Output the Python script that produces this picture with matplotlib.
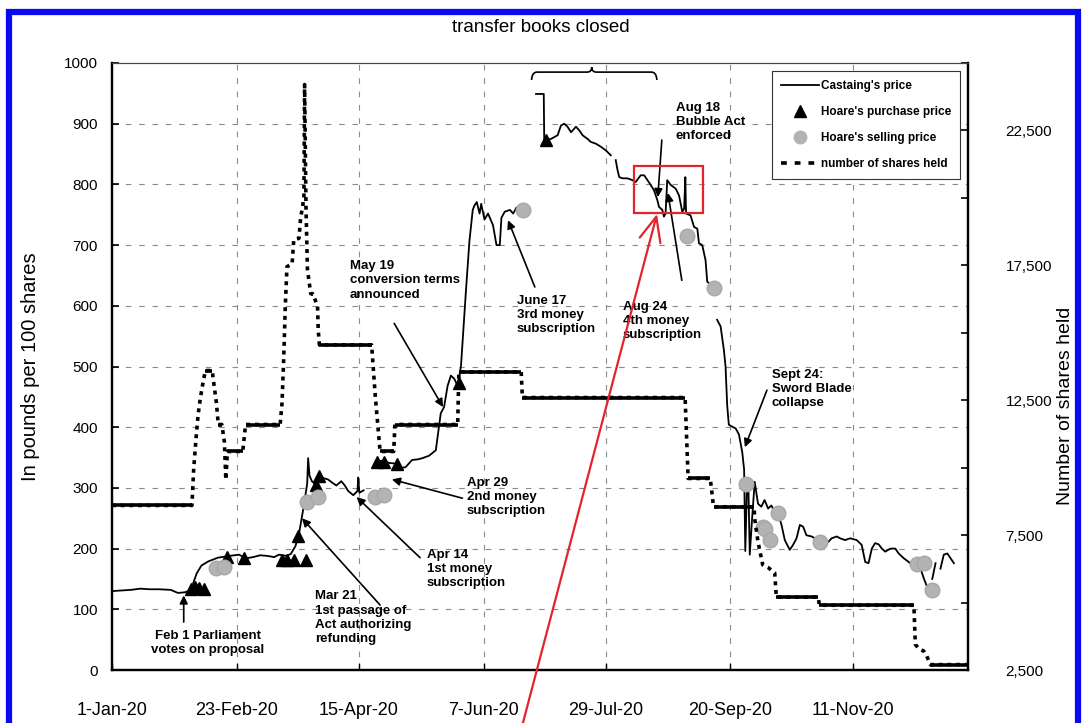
import numpy as np
import matplotlib
matplotlib.use('Agg')
import matplotlib.pyplot as plt
from matplotlib.lines import Line2D
from matplotlib.patches import Rectangle, PathPatch, FancyArrowPatch
from matplotlib.path import Path

plt.rcParams['font.family'] = ['Liberation Sans', 'DejaVu Sans']

nan = np.nan

# x values are days counted from 1 January 1720
tick_days = [0, 53, 105, 158, 210, 263, 315]
tick_labels = ['1-Jan-20', '23-Feb-20', '15-Apr-20', '7-Jun-20', '29-Jul-20', '20-Sep-20', '11-Nov-20']

# Castaing's price (pounds per 100 shares), nan = break in the series
price_days = [0, 4, 8, 12, 16, 20, 25, 28, 31, 33, 34, 36, 38, 41, 45, 50, 54, 57, 60, 63, 66, 69, 71, 74, 76,
              78, 79.5, 81.5, 83, 83.4, 84, 85, 86.5, 88, 90, 91.8, 93.5, 95.4, 97.5, 99, 100.4, 102.6, 104.4,
              104.7, 105.2, 107, 110, 112.5, 115, 118, 121, 122.5, 124.8, 127.6, 130, 132, 134.8, 137.7, 139.8,
              141.2, 142.7, 144.1, 145.5, 147, 148.4, 149.8, 150.6, 152, 153.4, 154.1, 155.1, 156.3, 157, 158.4,
              159.9, 162, 163.5, 164.9, 165.6, 167, 169.2, 170.6, 172, 173.5, 174.9, 177,
              180.3, 183.6, 183.8, 186.7, 189.5, 190.9, 192.3, 193.7, 195.2, 197.3, 198.7, 200.1, 202.2, 203.6,
              205.8, 207.9, 210, 212.1, 213, 214.2, 215, 215.7, 217.1, 219.2, 221.3, 222.7, 224.8, 226.3, 227.7,
              229.1, 230.5, 231.9, 232.6, 234, 234.7, 235.4, 236.1, 237.6, 239.7, 241.1, 242.5, 243.3, 243.8,
              244.1, 246, 247.5, 248.9, 249.6, 251, 252.4, 253.1, 256, 256.6,
              257.3, 258.8, 260.2, 260.9, 261.6, 262.3, 263.7, 265.2, 266.6, 268, 268.8, 269.3, 270, 270.6, 271.2,
              272.2, 273.3, 274.7, 276.1, 277.5, 279, 280.4, 281.8, 283.2, 284.7, 286.1, 288.2, 289.6, 291.1,
              292.5, 293.9, 295.3, 297.5, 298.9, 301, 302.5, 304.6, 306, 308.2, 309.6, 311.7, 313.9, 316.7, 318.8,
              320.3, 321.7, 323.1, 324.5, 326, 327.4, 328.8, 331, 333.1, 334.5, 336.7, 338.8, 340.2, 342, 343.8,
              345.2, 346.6, 347.5, 348.8, 350.2, 351, 352.3, 353.7, 355.2, 356.6, 358]
price = [130, 131, 132, 134, 133, 133, 132, 127, 128, 131, 137, 159, 172, 179, 185, 188, 190, 184, 186, 189, 188,
         186, 190, 188, 191, 204, 224, 269, 307, 349, 320, 311, 306, 320, 316, 314, 309, 304, 311, 304, 295, 288,
         295, 317, 292, 296, nan, 343, 345, 341, 340, 333, 334, 346, 347, 349, 353, 362, 423, 433, 468, 485, 480,
         468, 501, 584, 630, 707, 758, 765, 771, 752, 768, 742, 752, 733, 700, 700, 745, 755, 758, 752, 762, 760,
         758, nan,
         949, 949, 873, 875, 881, 897, 900, 895, 886, 895, 889, 881, 875, 870, 867, 862, 856, 848, nan, 840, 823,
         812, 810, 810, 807, 804, 815, 815, 807, 799, 790, 774, 763, 758, 747, 752, 807, 799, 793, 782, 755, 760,
         812, 752, 749, 730, 727, 703, 700, 675, 640, 629, nan,
         577, 566, 527, 500, 436, 404, 401, 398, 388, 359, 330, 196, 300, 305, 190, 250, 310, 274, 269, 280, 266,
         271, 260, 258, 239, 214, 198, 206, 217, 239, 236, 222, 220, 217, 211, 214, 211, 217, 220, 217, 214, 217,
         214, 206, 178, 176, 200, 209, 207, 200, 195, 200, 200, 192, 184, 178, 173, 175, 167, 151, 137, nan, 150,
         176, nan, 167, 190, 192, 184, 176]

# Hoare's purchases and sales
buy_days = [33.5, 35.5, 37, 39, 49, 56, 72.3, 74.4, 77.3, 79.2, 82.4, 86.7, 88.2, 112.5, 115.5, 121, 147.7, 184.6]
buy_price = [133, 137, 135, 134, 186, 185, 182, 182, 182, 220, 182, 304, 320, 343, 343, 340, 472, 873]
sell_days = [44.1, 47.7, 83.1, 87.4, 111.9, 115.5, 174.9, 244.6, 256, 269.7, 276.8, 277.8, 279.7, 283.2, 301,
             342.4, 345.2, 348.8]
sell_price = [168, 169, 277, 285, 285, 288, 758, 715, 629, 307, 236, 233, 214, 258, 211, 175, 176, 132]

# number of shares held (right axis)
shares_days = [0, 34, 34.7, 35.7, 36.6, 37.6, 38.6, 39.7, 42.6, 43.4, 44.4, 45.2, 46.7, 47.8, 48.4, 49.1, 55.6,
               56.8, 71.5, 72.3, 73.0, 73.7, 74.4, 76.6, 77.3, 79.5, 80.2, 80.9, 81.6, 81.9, 82.5, 83.1, 84.5,
               85.3, 87.4, 87.7, 88.2, 110.4, 112, 114, 119.8, 120.3, 147, 147.5, 174, 174.5, 243.7, 245, 254.4,
               255.8, 273, 273.3, 274.7, 276.7, 279, 281.8, 282.5, 300.3, 300.8, 341, 341.2, 341.6, 343, 345.2,
               346.3, 348, 364]
shares = [8600, 8600, 9900, 11050, 11950, 12600, 13100, 13600, 13600, 13050, 12400, 11600, 11600, 10950, 9550,
          10600, 10600, 11600, 11600, 12400, 14000, 16000, 17450, 17550, 18450, 18500, 19250, 19600, 20000, 24200,
          19600, 17350, 16450, 16450, 16000, 15100, 14550, 14550, 12600, 10600, 10600, 11600, 11600, 13550, 13550,
          12600, 12600, 9600, 9600, 8550, 8550, 8100, 7250, 6400, 6300, 6100, 5200, 5200, 4900, 4900, 4400, 3450,
          3300, 3200, 3050, 2700, 2700]

W, H = 1083, 723
fig = plt.figure(figsize=(W / 100, H / 100), dpi=100)
ax = fig.add_axes([112 / W, 1 - 670 / H, 856 / W, 607 / H])
ax2 = ax.twinx()

grid_kw = dict(color='#8a8a8a', lw=0.8, dashes=(5, 7), zorder=0)
for v in range(100, 1000, 100):
    ax.axhline(v, **grid_kw)
for d in tick_days[1:]:
    ax.axvline(d, **grid_kw)

ax.plot(price_days, price, color='black', lw=1.3, zorder=3)
ax.plot(buy_days, buy_price, ls='none', marker='^', ms=9, color='black', zorder=4)
ax.plot(sell_days, sell_price, ls='none', marker='o', ms=10.5, color='#b3b3b3', mec='#a8a8a8', zorder=4)

# shares held: dotted where it moves, solid where it stays flat
ax2.plot(shares_days, shares, color='black', lw=2.6, dashes=(1.1, 1.3), dash_capstyle='butt')
for i in range(len(shares) - 1):
    if shares[i] == shares[i + 1]:
        ax2.hlines(shares[i], shares_days[i], shares_days[i + 1], color='black', lw=2.6)

ax.set_xlim(0, 364)
ax.set_ylim(0, 1000)
ax2.set_ylim(2500, 25000)
ax.set_xticks(tick_days)
ax.set_xticklabels(tick_labels, fontsize=13)
ax.set_yticks(range(0, 1001, 100))
ax.tick_params(axis='y', labelsize=11, direction='in', length=5, width=1.2, pad=10)
ax.tick_params(axis='x', direction='in', length=5, width=1.0, pad=23)
ax2.set_yticks(range(2500, 25000, 5000))
ax2.set_yticklabels(['{:,}'.format(v) for v in range(2500, 25000, 5000)], fontsize=11)
ax2.set_yticks(range(5000, 25001, 5000), minor=True)
ax2.tick_params(axis='y', which='both', direction='in', length=5, width=1.2, pad=27)

for a in (ax, ax2):
    for s in ('left', 'right', 'bottom'):
        a.spines[s].set_linewidth(1.6)
    a.spines['top'].set_linewidth(0.8)
    a.spines['top'].set_linestyle((0, (1, 1)))
    a.spines['top'].set_color('#444444')

# transfer books brace
brace = Path([(178.4, 972), (178.6, 985), (180.7, 985), (202, 985), (204, 985), (204, 993),
              (204, 985), (206, 985), (229.4, 985), (231.5, 985), (231.7, 972)],
             [Path.MOVETO, Path.CURVE3, Path.CURVE3, Path.LINETO, Path.CURVE3, Path.CURVE3,
              Path.CURVE3, Path.CURVE3, Path.LINETO, Path.CURVE3, Path.CURVE3])
ax.add_patch(PathPatch(brace, facecolor='none', edgecolor='black', lw=1.2, zorder=5))

# annotations: text, text anchor, arrow tail, arrow head
notes = [
    ('Feb 1 Parliament\nvotes on proposal', (40.8, 45), 'center', (30.5, 79), (30.5, 123)),
    ('Mar 21\n1st passage of\nAct authorizing\nrefunding', (86.3, 86), 'left', (114, 107), (80.8, 250)),
    ('Apr 14\n1st money\nsubscription', (133.9, 166), 'left', (131, 185), (104, 285)),
    ('Apr 29\n2nd money\nsubscription', (150.9, 285), 'left', (149, 283), (119, 314)),
    ('May 19\nconversion terms\nannounced', (101.2, 642), 'left', (120, 571), (140.8, 433)),
    ('June 17\n3rd money\nsubscription', (172.2, 585), 'left', (179.8, 631), (168.4, 741)),
    ('Aug 18\nBubble Act\nenforced', (239.8, 903), 'left', (233.8, 873), (232.1, 779)),
    ('Aug 24\n4th money\nsubscription', (217.3, 575), 'left', (242.3, 642), (236.4, 786)),
    ('Sept 24:\nSword Blade\ncollapse', (280.6, 463), 'left', (278.5, 461), (269.1, 367)),
]
for txt, pos, ha, tail, head in notes:
    ax.text(pos[0], pos[1], txt, ha=ha, va='center', fontsize=9.5, fontweight='bold',
            linespacing=1.25, zorder=6)
    ax.annotate('', xy=head, xytext=tail,
                arrowprops=dict(arrowstyle='-|>', color='black', lw=1.2, mutation_scale=12,
                                shrinkA=0, shrinkB=0), zorder=6)

handles = [Line2D([], [], color='black', lw=1.3),
           Line2D([], [], ls='none', marker='^', ms=8, color='black'),
           Line2D([], [], ls='none', marker='o', ms=9, color='#b3b3b3'),
           Line2D([], [], color='black', lw=2.6, dashes=(1.6, 2.2))]
labels = ["Castaing's price", "Hoare's purchase price", "Hoare's selling price", 'number of shares held']
leg = fig.legend(handles, labels, loc='upper left', bbox_to_anchor=(772 / W, 1 - 71 / H),
                 prop={'size': 8.5, 'weight': 'bold'}, handlelength=3.2, handletextpad=0.2,
                 labelspacing=1.2, borderpad=0.75, borderaxespad=0, fancybox=False, framealpha=1)
leg.get_frame().set_edgecolor('#333333')
leg.get_frame().set_linewidth(0.8)

fig.text(541 / W, 1 - 28 / H, 'transfer books closed', ha='center', va='center', fontsize=13.5)
fig.text(31 / W, 1 - 367 / H, 'In pounds per 100 shares', ha='center', va='center', rotation=90, fontsize=14.5)
fig.text(1065 / W, 1 - 406 / H, 'Number of shares held', ha='center', va='center', rotation=90, fontsize=14)

# blue frame and red highlight
fig.add_artist(Rectangle((9 / W, -0.05), 1069 / W, 1.05 - 12 / H, transform=fig.transFigure,
                         fill=False, edgecolor='#0a0af0', lw=4.5))
fig.add_artist(Rectangle((634 / W, 1 - 213 / H), 69 / W, 47 / H, transform=fig.transFigure,
                         fill=False, edgecolor='#e3242b', lw=1.6))
fig.add_artist(FancyArrowPatch((521 / W, -0.01), (657 / W, 1 - 214 / H), transform=fig.transFigure,
                               arrowstyle='->,head_length=0.8,head_width=0.35', mutation_scale=22,
                               color='#e3242b', lw=1.6, shrinkA=0, shrinkB=0))

fig.savefig('out.png', dpi=100)
